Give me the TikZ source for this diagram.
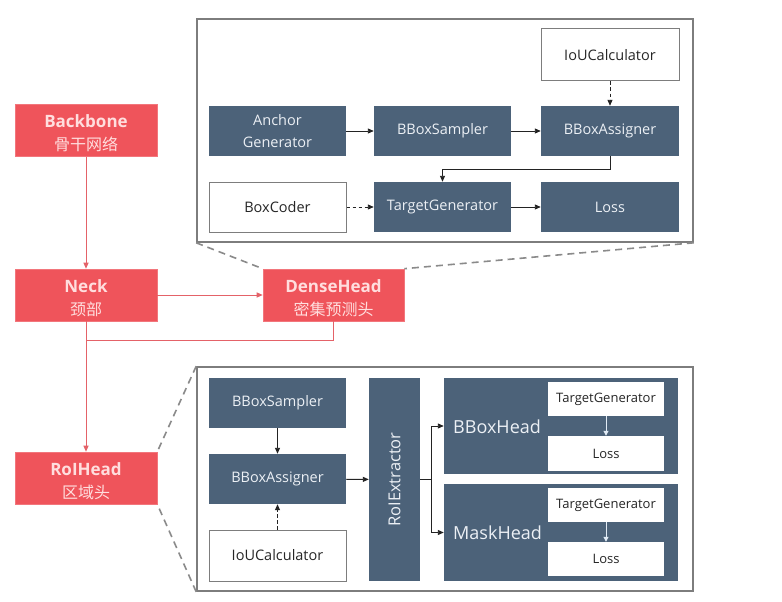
\documentclass[tikz,border=0pt]{standalone}
\usepackage{fontspec}
\setmainfont{Open Sans}
\newfontfamily\cjk{Noto Sans CJK SC}
\usetikzlibrary{arrows.meta}
\definecolor{redfill}{RGB}{239,84,91}
\definecolor{redtext}{RGB}{255,222,222}
\definecolor{redline}{RGB}{228,98,104}
\definecolor{darkfill}{RGB}{76,98,121}
\definecolor{darktext}{RGB}{236,240,245}
\definecolor{panelgray}{RGB}{125,125,125}
\definecolor{arrowcol}{RGB}{35,35,35}
\definecolor{whitearrow}{RGB}{225,235,245}
\begin{document}
\begin{tikzpicture}[x=1pt,y=-1pt,
  redbox/.style={fill=redfill,draw=redfill!80!white,line width=0.6pt,inner sep=0pt,text=redtext,align=center,minimum width=142pt,minimum height=52pt,font=\fontsize{17}{23}\selectfont},
  darkbox/.style={fill=darkfill,inner sep=0pt,text=darktext,align=center,font=\fontsize{14.5}{22}\selectfont},
  whitebox/.style={fill=white,draw=panelgray,line width=1pt,inner sep=0pt,text=black!85,align=center,font=\fontsize{14.5}{20}\selectfont},
  smallbox/.style={fill=white,inner sep=0pt,text=black!85,font=\fontsize{13}{15}\selectfont},
  panel/.style={draw=panelgray,line width=1.6pt,fill=white,inner sep=0pt},
  arr/.style={draw=arrowcol,line width=0.9pt,-{Triangle[length=6pt,width=5pt]}},
  darr/.style={arr,dash pattern=on 3.5pt off 2.5pt},
  rarr/.style={draw=redline,line width=1pt,-{Triangle[length=6pt,width=5pt]}},
  rline/.style={draw=redline,line width=1pt},
  gdash/.style={draw=panelgray!90,line width=1.6pt,dash pattern=on 7pt off 5pt},
  warr/.style={draw=whitearrow,line width=1pt,-{Triangle[length=5pt,width=5pt]}},
  headlabel/.style={text=darktext,font=\fontsize{18}{22}\selectfont,anchor=west,inner sep=0pt}
]
\useasboundingbox (0,0) rectangle (782,602);
\fill[white] (0,0) rectangle (782,602);

% red pipeline
\node[redbox] (backbone) at (86,130.5) {\rule{0pt}{19pt}\bfseries Backbone\\{\cjk\fontsize{16}{20}\selectfont 骨干网络}};
\node[redbox] (neck) at (86,295) {\rule{0pt}{19pt}\bfseries Neck\\{\cjk\fontsize{16}{20}\selectfont 颈部}};
\node[redbox,minimum width=141pt] (dense) at (333.5,295) {\rule{0pt}{19pt}\bfseries DenseHead\\{\cjk\fontsize{16}{20}\selectfont 密集预测头}};
\node[redbox] (roihead) at (86,478) {\rule{0pt}{19pt}\bfseries RoIHead\\{\cjk\fontsize{16}{20}\selectfont 区域头}};
\coordinate (join) at (86,340);

% panels
\node[panel,minimum width=496pt,minimum height=223pt] (toppanel) at (445,130.5) {};
\node[panel,minimum width=496pt,minimum height=224pt] (botpanel) at (445,479) {};

% dashed zoom lines
\draw[gdash] (toppanel.south west) -- (dense.north west);
\draw[gdash] (toppanel.south east) -- (dense.north east);
\draw[gdash] (botpanel.north west) -- (roihead.north east);
\draw[gdash] (botpanel.south west) -- (roihead.south east);

% red connectors
\draw[rarr] (backbone) -- (neck);
\draw[rarr] (neck) -- (dense);
\draw[rarr] (neck) -- (roihead);
\draw[rline] (dense.south) |- (join);

% top panel contents
\node[whitebox,minimum width=138pt,minimum height=52pt] (iou1) at (610,55) {IoUCalculator};
\node[darkbox,minimum width=137pt,minimum height=50pt] (anchor) at (277.5,131) {Anchor\\Generator};
\node[darkbox,minimum width=137pt,minimum height=50pt] (sampler1) at (442.5,131) {BBoxSampler};
\node[darkbox,minimum width=138pt,minimum height=50pt] (assigner1) at (610,131) {BBoxAssigner};
\node[whitebox,minimum width=137pt,minimum height=50pt] (boxcoder) at (277.5,207) {BoxCoder};
\node[darkbox,minimum width=137pt,minimum height=50pt] (tg1) at (442.5,207) {TargetGenerator};
\node[darkbox,minimum width=138pt,minimum height=50pt] (loss1) at (610,207) {Loss};

\draw[arr] (anchor) -- (sampler1);
\draw[arr] (sampler1) -- (assigner1);
\draw[darr] (iou1) -- (assigner1);
\draw[arr] (assigner1.south) -- ++(0,13) -| (tg1.north);
\draw[darr] (boxcoder) -- (tg1);
\draw[arr] (tg1) -- (loss1);

% bottom panel contents
\node[darkbox,minimum width=137pt,minimum height=50pt] (sampler2) at (277.5,403) {BBoxSampler};
\node[darkbox,minimum width=137pt,minimum height=50pt] (assigner2) at (277.5,479) {BBoxAssigner};
\node[whitebox,minimum width=137pt,minimum height=51pt] (iou2) at (277.5,555.5) {IoUCalculator};
\node[darkbox,minimum width=51pt,minimum height=203pt] (roiext) at (394.5,479.5) {};
\node[text=darktext,rotate=90,font=\fontsize{16.5}{20}\selectfont] (roilabel) at (394.5,479.5) {RoIExtractor};
\node[darkbox,minimum width=234pt,minimum height=96pt] (bboxhead) at (561,426) {};
\node[darkbox,minimum width=234pt,minimum height=97pt] (maskhead) at (561,532.5) {};
\node[headlabel] (bboxlabel) at (453,427) {BBoxHead};
\node[headlabel] (masklabel) at (453,533) {MaskHead};
\node[smallbox,minimum width=116pt,minimum height=34pt] (tg2) at (606,399) {TargetGenerator};
\node[smallbox,minimum width=116pt,minimum height=35pt] (loss2) at (606,453.5) {Loss};
\node[smallbox,minimum width=116pt,minimum height=34pt] (tg3) at (606,505) {TargetGenerator};
\node[smallbox,minimum width=116pt,minimum height=34pt] (loss3) at (606,559) {Loss};
\coordinate (split) at (431,479.5);

\draw[arr] (sampler2) -- (assigner2);
\draw[darr] (iou2) -- (assigner2);
\draw[arr] (assigner2) -- (roiext);
\draw[draw=arrowcol,line width=0.9pt] (roiext.east |- split) -- (split);
\draw[arr] (split) |- (bboxhead.west);
\draw[arr] (split) |- (maskhead.west);
\draw[warr] (tg2) -- (loss2);
\draw[warr] (tg3) -- (loss3);
\end{tikzpicture}
\end{document}
